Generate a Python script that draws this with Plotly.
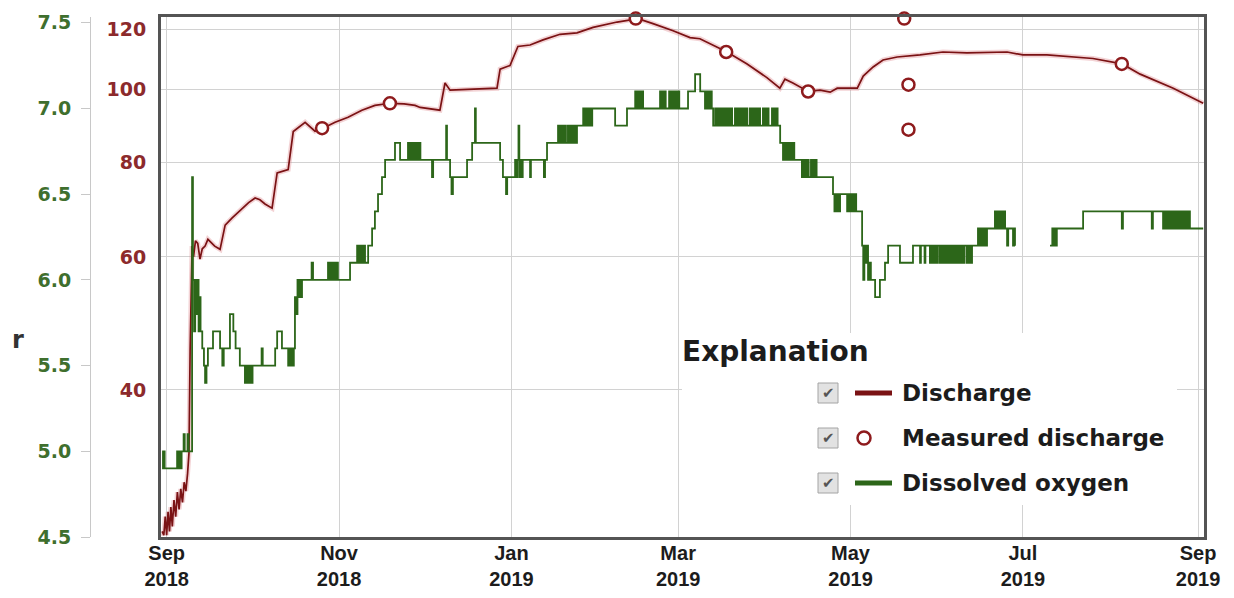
import math

import pandas as pd
import plotly.graph_objects as go

# Day offsets below are counted from this timestamp
SERIES_START = pd.Timestamp("2018-09-01")

# Discharge, cubic feet per second: (days after SERIES_START, value)
discharge_readings = [
    (-1.6, 26.0), (-1.0, 25.7), (-0.5, 27.2), (0.0, 25.7), (0.5, 27.6), (1.0, 26.0),
    (1.5, 28.0), (2.0, 26.4), (2.6, 28.6), (3.2, 27.2), (3.8, 29.3), (4.4, 27.8),
    (5.0, 29.6), (5.6, 28.4), (6.2, 30.2), (6.8, 29.4), (7.4, 31.0), (7.9, 33.0),
    (8.3, 45.0), (8.6, 55.0), (9.0, 62.0), (9.5, 60.0), (10.2, 63.0), (11.0, 62.5),
    (11.8, 59.6), (12.6, 61.5), (13.6, 62.0), (14.6, 63.3), (16.0, 62.5), (17.0, 62.0),
    (18.9, 61.4), (20.7, 66.1), (23.1, 67.5), (26.7, 69.6), (29.0, 70.8), (31.3, 71.8),
    (33.0, 71.4), (34.8, 70.5), (37.3, 69.6), (39.1, 77.5), (43.0, 78.3), (44.8, 87.9),
    (49.0, 90.4), (52.5, 88.0), (55.3, 88.8), (59.6, 90.4), (64.2, 91.8), (69.1, 93.8),
    (73.7, 95.2), (79.1, 95.8), (84.0, 95.6), (87.9, 95.2), (89.7, 94.6), (96.7, 93.8),
    (98.5, 101.9), (100.3, 99.7), (108.0, 100.0), (116.9, 100.3), (118.0, 106.3),
    (121.5, 107.5), (124.3, 113.9), (128.6, 114.4), (133.2, 116.2), (139.2, 118.2),
    (145.2, 118.7), (150.9, 120.7), (159.4, 122.7), (166.8, 124.0), (172.1, 122.1),
    (179.2, 119.5), (185.2, 117.0), (188.7, 116.6), (198.3, 112.0), (205.4, 108.0),
    (212.4, 103.6), (217.0, 100.3), (218.8, 103.1), (221.6, 101.9), (227.0, 99.3),
    (231.2, 99.7), (234.8, 99.1), (237.3, 100.3), (244.4, 100.3), (246.5, 104.1),
    (250.0, 107.0), (253.5, 109.3), (258.5, 110.3), (266.6, 111.0), (274.7, 112.0),
    (283.2, 111.7), (297.4, 112.0), (303.0, 111.0), (311.5, 111.0), (327.8, 109.8),
    (338.1, 108.0), (344.5, 104.7), (356.2, 100.3), (366.8, 95.8),
]

# Field measurements of discharge, cubic feet per second
measured_dates = [
    "2018-10-26", "2018-11-19", "2019-02-14", "2019-03-18", "2019-04-16",
    "2019-05-20", "2019-05-21 12:00", "2019-05-21 12:00", "2019-08-05",
]
measured_cfs = [88.8, 95.8, 124.0, 112.0, 99.3, 124.0, 101.4, 88.4, 108.0]

# Dissolved oxygen, milligrams per liter: (days after SERIES_START, value)
do_readings = [
    (-1.6, 5.0), (-1.3, 4.9), (-1.0, 5.0), (-0.7, 4.9),
    (3.7, 5.0), (4.1, 4.9), (4.5, 5.0), (4.9, 4.9), (5.3, 5.0),
    (6.0, 5.1), (6.4, 5.0), (7.4, 5.1), (7.8, 5.0),
    (9.0, 6.6), (9.3, 6.0), (9.7, 5.7), (10.1, 6.0), (10.5, 5.8), (10.9, 6.0),
    (11.3, 5.7), (11.7, 5.9), (12.0, 5.7), (12.6, 5.6), (13.2, 5.5), (13.6, 5.4),
    (14.1, 5.5), (14.6, 5.6), (16.4, 5.7), (18.9, 5.6), (19.7, 5.5), (20.2, 5.6),
    (22.4, 5.8), (23.6, 5.7), (24.4, 5.6), (25.9, 5.5),
    (27.7, 5.4), (28.1, 5.5), (28.5, 5.4), (28.9, 5.5), (29.3, 5.4), (29.7, 5.5),
    (30.1, 5.4), (30.4, 5.5), (33.6, 5.6), (34.0, 5.5), (38.4, 5.6), (39.1, 5.7),
    (40.8, 5.6), (43.0, 5.5), (43.4, 5.6), (43.8, 5.5), (44.2, 5.6), (44.6, 5.5),
    (45.0, 5.6), (45.4, 5.9), (45.9, 5.8), (46.3, 6.0), (46.7, 5.9), (47.1, 6.0),
    (47.5, 5.9), (47.9, 6.0), (51.3, 6.1), (51.8, 6.0),
    (57.1, 6.1), (57.5, 6.0), (57.9, 6.1), (58.3, 6.0), (58.7, 6.1), (59.1, 6.0),
    (59.5, 6.1), (59.9, 6.0), (60.3, 6.1), (60.6, 6.0), (64.9, 6.1),
    (67.4, 6.2), (67.8, 6.1), (68.2, 6.2), (68.6, 6.1), (69.0, 6.2), (69.4, 6.1),
    (69.8, 6.2), (70.2, 6.1), (71.3, 6.2), (72.7, 6.3), (73.7, 6.4), (74.8, 6.5),
    (76.2, 6.6), (77.3, 6.7), (80.8, 6.8), (82.6, 6.7),
    (85.4, 6.8), (85.8, 6.7), (86.2, 6.8), (86.6, 6.7), (87.0, 6.8), (87.4, 6.7),
    (87.8, 6.8), (88.2, 6.7), (88.6, 6.8), (89.0, 6.7), (89.4, 6.8), (89.8, 6.7),
    (93.9, 6.6), (94.3, 6.7), (98.9, 6.9), (99.2, 6.7), (100.3, 6.6), (100.8, 6.5),
    (101.3, 6.6), (106.3, 6.7), (108.1, 6.8), (109.1, 7.0), (109.4, 6.8),
    (118.0, 6.7), (119.0, 6.6), (120.1, 6.5), (120.5, 6.6),
    (123.3, 6.7), (123.7, 6.6), (124.1, 6.7), (124.5, 6.9), (124.8, 6.6), (125.2, 6.7),
    (125.6, 6.6), (126.0, 6.7), (128.6, 6.6), (128.9, 6.7), (133.5, 6.6), (133.9, 6.7),
    (134.6, 6.8),
    (138.5, 6.9), (138.9, 6.8), (139.3, 6.9), (139.7, 6.8), (140.1, 6.9), (140.5, 6.8),
    (140.9, 6.9), (141.3, 6.8), (142.0, 6.9), (142.4, 6.8), (142.8, 6.9), (143.2, 6.8),
    (143.6, 6.9), (144.0, 6.8), (144.4, 6.9), (144.8, 6.8), (145.2, 6.9),
    (147.4, 7.0), (147.8, 6.9), (148.2, 7.0), (148.6, 6.9), (149.0, 7.0), (149.4, 6.9),
    (149.8, 7.0), (150.2, 6.9), (150.6, 7.0), (158.7, 6.9), (162.9, 7.0),
    (165.8, 7.1), (166.2, 7.0), (166.6, 7.1), (167.0, 7.0), (167.4, 7.1), (167.8, 7.0),
    (168.2, 7.1), (168.6, 7.0),
    (174.6, 7.1), (175.0, 7.0), (175.4, 7.1), (175.8, 7.0), (176.2, 7.1), (176.6, 7.0),
    (177.8, 7.1), (178.2, 7.0), (178.6, 7.1), (179.0, 7.0), (179.4, 7.1), (179.8, 7.0),
    (180.2, 7.1), (180.6, 7.0), (181.0, 7.1), (181.4, 7.0),
    (184.5, 7.1), (187.0, 7.2), (188.8, 7.1),
    (190.5, 7.0), (190.9, 7.1), (191.3, 7.0), (191.7, 7.1), (192.1, 7.0), (192.5, 7.1),
    (192.9, 7.0), (193.4, 6.9),
    (194.1, 7.0), (194.5, 6.9), (194.9, 7.0), (195.3, 6.9), (195.7, 7.0), (196.1, 6.9),
    (196.5, 7.0), (196.9, 6.9), (197.3, 7.0), (197.7, 6.9), (198.1, 7.0), (198.5, 6.9),
    (198.9, 7.0), (199.3, 6.9), (199.7, 7.0), (200.1, 6.9),
    (201.1, 7.0), (201.5, 6.9), (201.9, 7.0), (202.3, 6.9), (202.7, 7.0), (203.1, 6.9),
    (203.5, 7.0), (203.9, 6.9), (204.3, 7.0), (204.7, 6.9), (205.1, 7.0), (205.5, 6.9),
    (206.4, 7.0), (206.8, 6.9), (207.2, 7.0), (207.6, 6.9), (208.0, 7.0), (208.4, 6.9),
    (208.8, 7.0), (209.2, 6.9), (209.6, 7.0), (210.0, 6.9),
    (211.0, 7.0), (211.4, 6.9), (211.8, 7.0), (212.2, 6.9), (212.6, 7.0), (213.0, 6.9),
    (214.2, 7.0), (214.6, 6.9), (215.0, 7.0), (215.4, 6.9), (215.8, 7.0), (216.2, 6.9),
    (217.1, 6.8),
    (218.1, 6.7), (218.5, 6.8), (218.9, 6.7), (219.3, 6.8), (219.7, 6.7), (220.1, 6.8),
    (220.5, 6.7), (220.9, 6.8), (221.3, 6.7), (221.7, 6.8), (222.1, 6.7),
    (224.8, 6.6), (225.2, 6.7), (225.6, 6.6), (226.0, 6.7), (226.4, 6.6), (226.8, 6.7),
    (227.2, 6.6), (228.0, 6.7), (228.4, 6.6), (228.8, 6.7), (229.2, 6.6), (229.6, 6.7),
    (230.0, 6.6), (235.8, 6.5),
    (236.3, 6.4), (236.7, 6.5), (237.1, 6.4), (237.5, 6.5), (237.9, 6.4), (238.3, 6.5),
    (240.8, 6.4), (241.2, 6.5), (241.6, 6.4), (242.0, 6.5), (242.4, 6.4), (242.8, 6.5),
    (243.2, 6.4), (243.6, 6.5), (244.0, 6.4),
    (246.1, 6.2), (246.5, 6.0), (246.9, 6.2), (247.3, 6.1), (247.7, 6.2), (248.2, 6.0),
    (248.6, 6.1), (249.2, 6.0), (250.7, 5.9), (252.4, 6.0), (254.2, 6.1), (255.3, 6.2),
    (259.5, 6.1), (264.1, 6.2), (266.6, 6.1), (266.9, 6.2), (268.2, 6.1), (268.5, 6.2),
    (270.1, 6.1), (270.5, 6.2), (270.9, 6.1), (271.3, 6.2), (271.7, 6.1), (272.1, 6.2),
    (272.5, 6.1), (272.9, 6.2),
    (273.6, 6.1), (274.0, 6.2), (274.4, 6.1), (274.8, 6.2), (275.2, 6.1), (275.6, 6.2),
    (276.0, 6.1), (276.4, 6.2),
    (276.9, 6.1), (277.3, 6.2), (277.7, 6.1), (278.1, 6.2), (278.5, 6.1), (278.9, 6.2),
    (279.3, 6.1), (279.7, 6.2),
    (280.2, 6.1), (280.6, 6.2), (281.0, 6.1), (281.4, 6.2), (281.8, 6.1), (282.2, 6.2),
    (283.0, 6.1), (283.4, 6.2), (283.8, 6.1), (284.2, 6.2), (284.6, 6.1), (285.0, 6.2),
    (287.1, 6.3), (287.5, 6.2), (287.9, 6.3), (288.3, 6.2), (288.7, 6.3), (289.1, 6.2),
    (289.5, 6.3), (289.9, 6.2), (290.3, 6.3),
    (293.1, 6.4), (293.5, 6.3), (293.9, 6.4), (294.3, 6.3), (294.7, 6.4), (295.1, 6.3),
    (295.5, 6.4), (295.9, 6.3), (296.3, 6.4), (296.7, 6.3),
    (297.4, 6.2), (297.8, 6.3), (299.5, 6.2), (299.9, 6.3), (300.2, 6.2),
    (300.3, None),
    (312.6, 6.2), (313.4, 6.3), (313.8, 6.2), (314.2, 6.3), (314.6, 6.2), (315.0, 6.3),
    (324.3, 6.4), (338.0, 6.3), (338.4, 6.4), (348.6, 6.3), (349.0, 6.4),
    (352.6, 6.3), (353.0, 6.4), (353.4, 6.3), (353.8, 6.4), (354.2, 6.3), (354.6, 6.4),
    (355.0, 6.3), (355.4, 6.4), (355.8, 6.3), (356.2, 6.4), (356.6, 6.3), (357.0, 6.4),
    (357.4, 6.3), (357.8, 6.4), (358.2, 6.3), (358.6, 6.4), (359.0, 6.3), (359.4, 6.4),
    (359.8, 6.3), (360.2, 6.4), (360.6, 6.3), (361.0, 6.4), (361.4, 6.3), (361.8, 6.4),
    (362.1, 6.3), (366.8, 6.3),
]

discharge_ticks = [40, 60, 80, 100, 120]
do_ticks = [4.5, 5.0, 5.5, 6.0, 6.5, 7.0, 7.5]
legend_labels = ["Discharge", "Measured discharge", "Dissolved oxygen"]

X_RANGE = ["2018-08-30 00:00", "2019-09-03 02:00"]
DISCHARGE_LIMITS = (25.56, 124.6)
DO_LIMITS = (4.5, 7.534)

DISCHARGE_COLOR = "#7a1214"
DISCHARGE_HALO = "rgba(215, 110, 115, 0.30)"
MEASURED_COLOR = "#8e1b1d"
DO_COLOR = "#2c6619"
DISCHARGE_LABEL = "#8c2a2c"
DO_LABEL = "#3f6f2e"
GRID = "#d2d2d2"
FRAME = "#545454"
TEXT = "#1c1c1c"

W, H = 1234, 598
MARGIN = dict(l=0, r=30, t=17, b=61, autoexpand=False)
PAPER_W = W - MARGIN["l"] - MARGIN["r"]
PLOT_H = H - MARGIN["t"] - MARGIN["b"]


def px(x):
    """Horizontal page pixel -> paper fraction."""
    return (x - MARGIN["l"]) / PAPER_W


def py(y):
    """Vertical page pixel -> paper fraction."""
    return (MARGIN["t"] + PLOT_H - y) / PLOT_H


def to_time(days):
    return SERIES_START + pd.to_timedelta(list(days), unit="D")


q_days, q_vals = zip(*discharge_readings)
do_days, do_vals = zip(*do_readings)
q_time = to_time(q_days)

fig = go.Figure()

# soft halo under the discharge line
fig.add_trace(go.Scatter(
    x=q_time, y=list(q_vals), mode="lines", hoverinfo="skip", showlegend=False,
    line=dict(color=DISCHARGE_HALO, width=5), yaxis="y",
))
fig.add_trace(go.Scatter(
    x=q_time, y=list(q_vals), mode="lines", name="Discharge",
    line=dict(color=DISCHARGE_COLOR, width=1.7), yaxis="y",
))
fig.add_trace(go.Scatter(
    x=pd.to_datetime(measured_dates, format="ISO8601"), y=measured_cfs, mode="markers",
    name="Measured discharge", yaxis="y", cliponaxis=False,
    marker=dict(symbol="circle", size=12, color="white",
                line=dict(color=MEASURED_COLOR, width=2.5)),
))
fig.add_trace(go.Scatter(
    x=to_time(do_days), y=list(do_vals), mode="lines", name="Dissolved oxygen",
    line=dict(color=DO_COLOR, width=1.8, shape="hv"), connectgaps=False, yaxis="y2",
))

axis_font = dict(family="DejaVu Sans", size=19, weight="bold")

fig.update_layout(
    width=W, height=H, margin=MARGIN,
    paper_bgcolor="white", plot_bgcolor="white", showlegend=False,
    xaxis=dict(
        domain=[px(161), 1], type="date", range=X_RANGE, automargin=False,
        tick0="2018-09-01", dtick="M2", tickformat="%b<br>%Y", ticks="",
        showgrid=True, gridcolor=GRID, gridwidth=1, zeroline=False,
        showline=True, mirror=True, linecolor=FRAME, linewidth=3,
        tickfont=dict(family="Liberation Sans", size=20, color=TEXT, weight="bold"),
        ticklabelstandoff=-4,
    ),
    yaxis=dict(
        type="log", range=[math.log10(v) for v in DISCHARGE_LIMITS], automargin=False,
        tickvals=discharge_ticks, ticktext=[str(v) for v in discharge_ticks], ticks="",
        showgrid=True, gridcolor=GRID, gridwidth=1, zeroline=False,
        showline=True, mirror=True, linecolor=FRAME, linewidth=3,
        tickfont=dict(axis_font, color=DISCHARGE_LABEL), ticklabelstandoff=8,
    ),
    yaxis2=dict(
        overlaying="y", anchor="free", position=px(90), side="left", automargin=False,
        range=list(DO_LIMITS), tickvals=do_ticks, tickformat=".1f",
        ticks="outside", ticklen=9, tickcolor="#c8c8c8", tickwidth=1,
        showline=True, linecolor="#c8c8c8", linewidth=1,
        showgrid=False, zeroline=False,
        tickfont=dict(axis_font, color=DO_LABEL), ticklabelstandoff=6,
    ),
)

# Explanation box, drawn over the grid
shapes = [dict(type="rect", xref="paper", yref="paper",
               x0=px(682), x1=px(1177), y0=py(505), y1=py(333),
               fillcolor="white", line=dict(width=0), layer="above")]
annotations = [
    dict(text="Explanation", xref="paper", yref="paper", x=px(680), y=py(352),
         xanchor="left", yanchor="middle", showarrow=False,
         font=dict(family="DejaVu Sans", size=28, color=TEXT, weight="bold")),
    dict(text="r", xref="paper", yref="paper", x=px(26), y=py(340),
         xanchor="right", yanchor="middle", showarrow=False,
         font=dict(family="DejaVu Sans", size=24, color="#333333", weight="bold")),
]

row_y = [393, 438, 483]
for label, yc in zip(legend_labels, row_y):
    # checkbox
    shapes.append(dict(type="rect", xref="paper", yref="paper",
                       x0=px(818), x1=px(838), y0=py(yc + 10), y1=py(yc - 10),
                       fillcolor="#e2e2e2", line=dict(color="#a4a4a4", width=1),
                       layer="above"))
    annotations.append(dict(text="✔", xref="paper", yref="paper", x=px(828), y=py(yc),
                            xanchor="center", yanchor="middle", showarrow=False,
                            font=dict(family="DejaVu Sans", size=15, color="#555555")))
    annotations.append(dict(text=label, xref="paper", yref="paper", x=px(900), y=py(yc),
                            xanchor="left", yanchor="middle", showarrow=False,
                            font=dict(family="DejaVu Sans", size=23, color=TEXT,
                                      weight="bold")))

# legend keys
shapes.append(dict(type="line", xref="paper", yref="paper",
                   x0=px(855), x1=px(892), y0=py(row_y[0]), y1=py(row_y[0]),
                   line=dict(color=DISCHARGE_COLOR, width=5), layer="above"))
shapes.append(dict(type="circle", xref="paper", yref="paper",
                   x0=px(857.5), x1=px(870.5), y0=py(row_y[1] + 6.5), y1=py(row_y[1] - 6.5),
                   fillcolor="white", line=dict(color=MEASURED_COLOR, width=2.5),
                   layer="above"))
shapes.append(dict(type="line", xref="paper", yref="paper",
                   x0=px(855), x1=px(892), y0=py(row_y[2]), y1=py(row_y[2]),
                   line=dict(color=DO_COLOR, width=5), layer="above"))

fig.update_layout(shapes=shapes, annotations=annotations)

fig.write_html("out.html")
